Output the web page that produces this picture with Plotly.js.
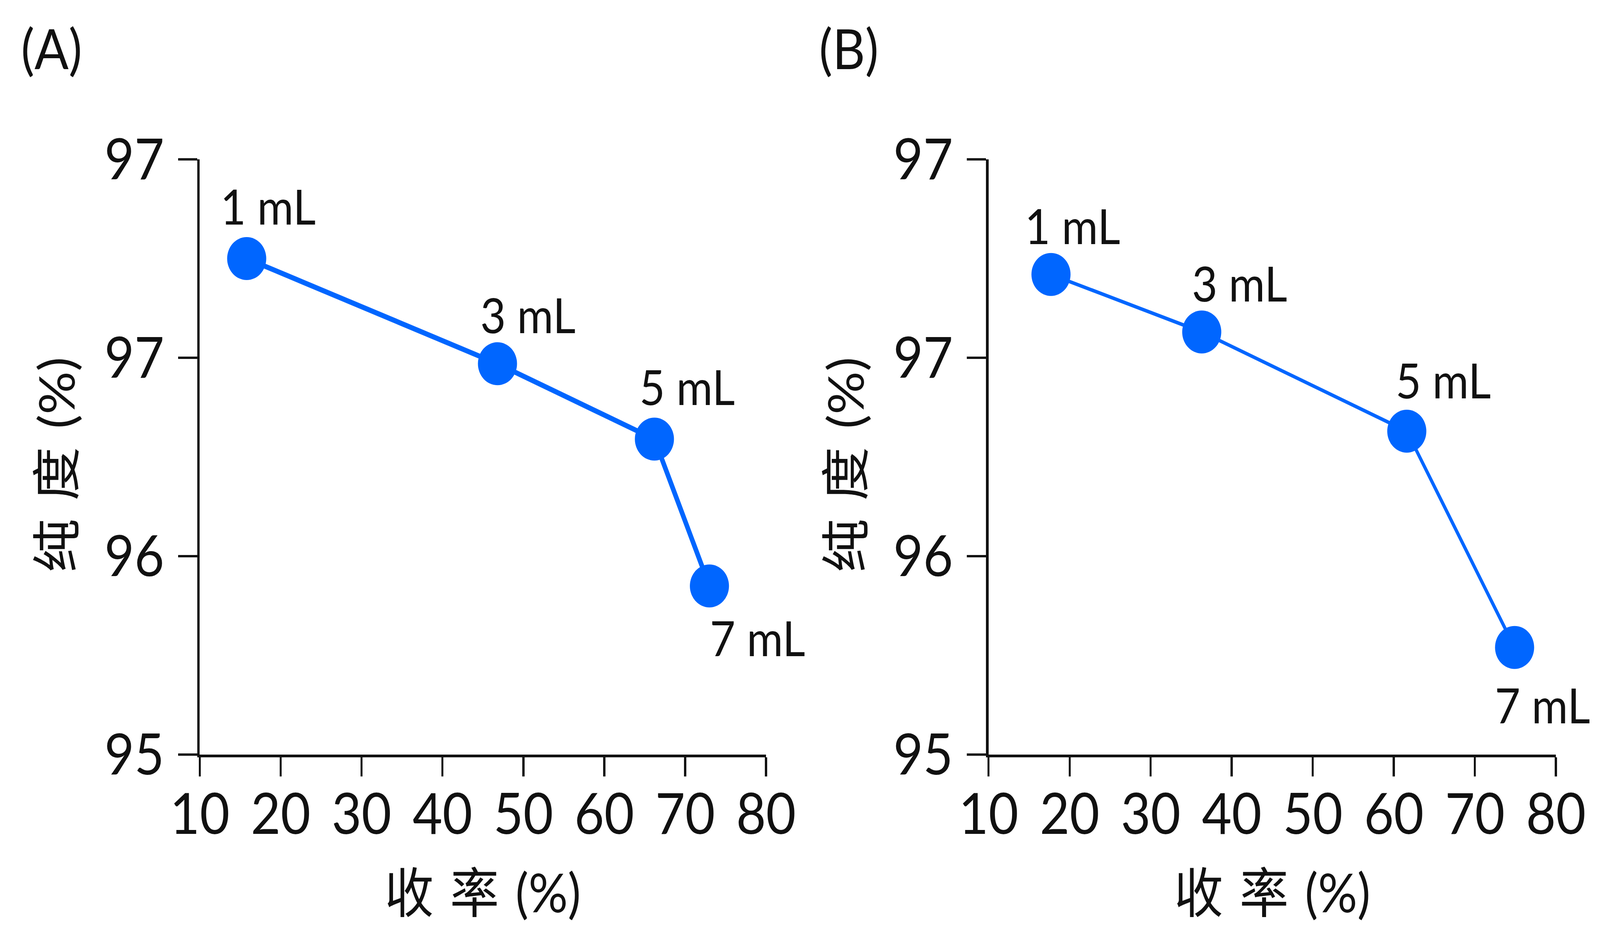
<!DOCTYPE html>
<html>
<head>
<meta charset="utf-8">
<script src="https://cdn.plot.ly/plotly-3.0.1.min.js"></script>
<style>
html,body{margin:0;padding:0;background:#fff;overflow:hidden;}
#wrap{position:absolute;left:0;top:0;width:4501px;height:2376px;transform-origin:0 0;}
</style>
</head>
<body>
<div id="wrap"><div id="chart"></div></div>
<script>
const volumeLabels = ["1 mL", "3 mL", "5 mL", "7 mL"];
const yieldA = [15.8, 46.8, 66.2, 73.0];
const purityA = [97.50, 96.97, 96.59, 95.85];
const yieldB = [17.7, 36.3, 61.6, 74.9];
const purityB = [97.42, 97.13, 96.63, 95.54];
const xTickVals = [10, 20, 30, 40, 50, 60, 70, 80];
const yTickVals = [95, 96, 97, 98];
const yTickText = ["95", "96", "97", "97"];
const panelLabels = ["(A)", "(B)"];
const xTitle = "收\u2004率\u2004(%)";
const yTitle = "纯\u2004度\u2004(%)";

const REF_W = 4501, REF_H = 2376;
const W = window.innerWidth || REF_W;
const H = window.innerHeight || REF_H;
// fit the reference-sized figure into whatever window we are given
document.getElementById("wrap").style.transform = "scale(" + (W / REF_W) + "," + (H / REF_H) + ")";

const FONT = "Lato, 'Noto Sans CJK SC', sans-serif";
const BLUE = "#0066FF";
const INK = "#111111";

const traces = [
  {x: yieldA, y: purityA, xaxis: "x", yaxis: "y", mode: "lines+markers",
   line: {color: BLUE, width: 13}, marker: {color: BLUE, size: 110}, cliponaxis: false},
  {x: yieldB, y: purityB, xaxis: "x2", yaxis: "y2", mode: "lines+markers",
   line: {color: BLUE, width: 9}, marker: {color: BLUE, size: 110}, cliponaxis: false}
];

const xAxisBase = {
  range: [10, 80], tickvals: xTickVals, ticks: "outside", ticklen: 49, tickwidth: 6,
  tickcolor: INK, showline: true, linecolor: INK, linewidth: 7, showgrid: false, zeroline: false,
  tickfont: {family: FONT, size: 145, color: INK}, ticklabelstandoff: -27
};
const yAxisBase = {
  range: [95, 98], tickvals: yTickVals, ticktext: yTickText, ticks: "outside", ticklen: 54, tickwidth: 6,
  tickcolor: INK, showline: true, linecolor: INK, linewidth: 7, showgrid: false, zeroline: false,
  tickfont: {family: FONT, size: 145, color: INK}, ticklabelstandoff: 10
};

const yTop = 1 - 408 / REF_H, yBot = 1 - 1932 / REF_H;
const layout = {
  width: REF_W, height: REF_H, showlegend: false,
  paper_bgcolor: "#fff", plot_bgcolor: "#fff",
  margin: {l: 0, r: 0, t: 0, b: 0},
  xaxis: Object.assign({}, xAxisBase, {domain: [562 / REF_W, 2155 / REF_W], anchor: "y"}),
  yaxis: Object.assign({}, yAxisBase, {domain: [yBot, yTop], anchor: "x"}),
  xaxis2: Object.assign({}, xAxisBase, {domain: [2781 / REF_W, 4377 / REF_W], anchor: "y2"}),
  yaxis2: Object.assign({}, yAxisBase, {domain: [yBot, yTop], anchor: "x2"}),
  annotations: []
};

const labelFont = {family: FONT, size: 124, color: INK};
const shiftsA = [[60, 135], [86, 126], [92, 135], [135, -132]];
const shiftsB = [[60, 126], [106, 126], [103, 132], [78, -146]];
volumeLabels.forEach((t, i) => {
  layout.annotations.push({x: yieldA[i], y: purityA[i], xref: "x", yref: "y", text: t, showarrow: false,
    xshift: shiftsA[i][0], yshift: shiftsA[i][1], font: labelFont});
  layout.annotations.push({x: yieldB[i], y: purityB[i], xref: "x2", yref: "y2", text: t, showarrow: false,
    xshift: shiftsB[i][0], yshift: shiftsB[i][1], font: labelFont});
});

const titleFont = {family: FONT, size: 138, color: INK};
[[1358, 156], [3579, 2376]].forEach((p, i) => {
  layout.annotations.push({x: p[0] / REF_W, y: 1 - 2282 / REF_H, xref: "paper", yref: "paper", text: xTitle,
    showarrow: false, font: titleFont, xanchor: "center", yanchor: "middle"});
  layout.annotations.push({x: p[1] / REF_W, y: 1 - 1190 / REF_H, xref: "paper", yref: "paper", text: yTitle,
    showarrow: false, font: titleFont, textangle: -90, xanchor: "center", yanchor: "middle"});
});
[57, 2302].forEach((x, i) => {
  layout.annotations.push({x: x / REF_W, y: 1 - 122 / REF_H, xref: "paper", yref: "paper", text: panelLabels[i],
    showarrow: false, font: {family: FONT, size: 142, color: INK}, xanchor: "left", yanchor: "middle"});
});

Plotly.newPlot("chart", traces, layout, {staticPlot: true});
</script>
</body>
</html>
